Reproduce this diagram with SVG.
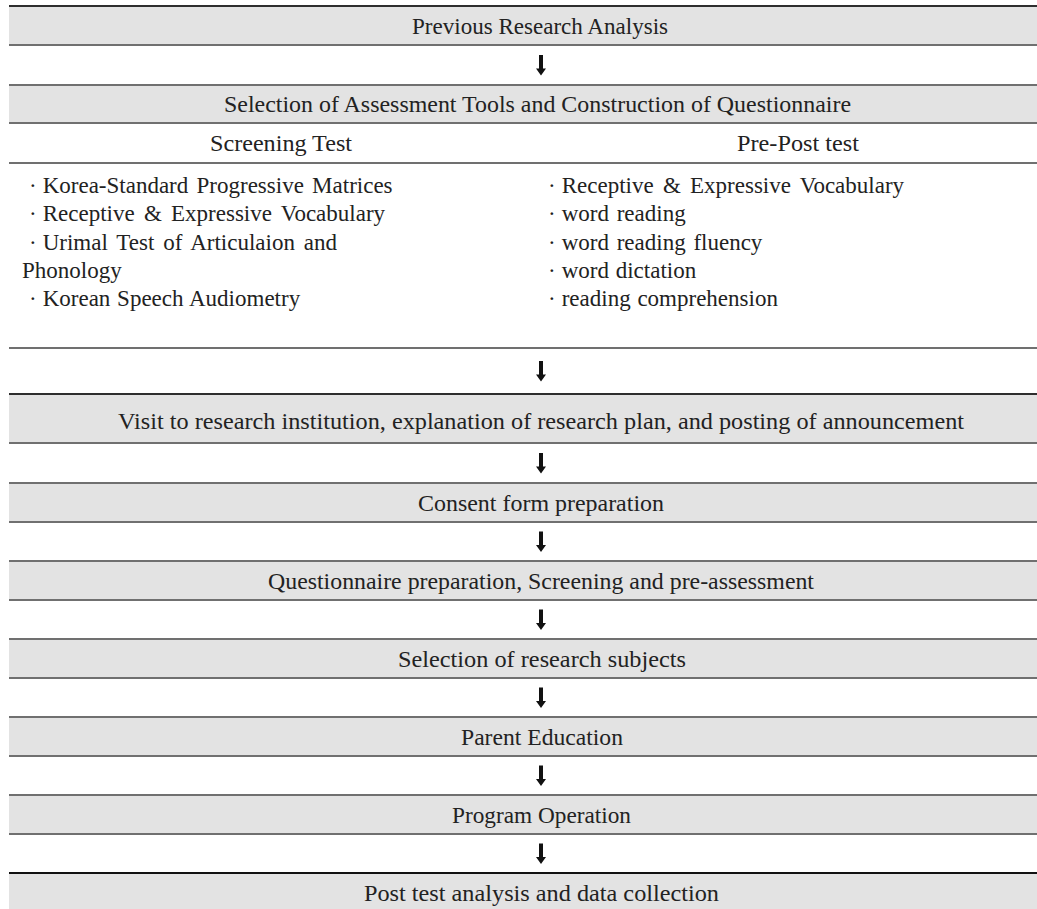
<svg xmlns="http://www.w3.org/2000/svg" width="1037" height="909" viewBox="0 0 1037 909">
<defs>
<style>
.band{fill:#e3e3e3}
.ln{stroke:#707070;stroke-width:2}
.dk{stroke:#2e2e2e;stroke-width:2}
.t{font-family:"Liberation Serif","Times New Roman",serif;font-size:23px;fill:#222}
.arr{fill:#111}
</style>
<path id="arrow" d="M-2,-10 H2 V3.5 H5 L0,10.5 L-5,3.5 H-2 Z"/>
</defs>
<rect width="1037" height="909" fill="#fff"/>
<g id="n1">
<rect class="band" x="9" y="6" width="1028" height="39"/>
<line class="dk" x1="9" y1="6" x2="1037" y2="6"/>
<line class="ln" x1="9" y1="45" x2="1037" y2="45"/>
<text class="t" x="412" y="34" textLength="256" lengthAdjust="spacingAndGlyphs">Previous Research Analysis</text>
</g>
<g id="n2">
<rect class="band" x="9" y="85" width="1028" height="38"/>
<line class="ln" x1="9" y1="85" x2="1037" y2="85"/>
<line class="ln" x1="9" y1="123" x2="1037" y2="123"/>
<text class="t" x="224" y="112" textLength="627" lengthAdjust="spacingAndGlyphs">Selection of Assessment Tools and Construction of Questionnaire</text>
</g>
<g id="n3">
<line class="ln" x1="9" y1="163" x2="1037" y2="163"/>
<text class="t" x="210" y="151" textLength="142" lengthAdjust="spacingAndGlyphs">Screening Test</text>
<text class="t" x="737" y="151" textLength="122" lengthAdjust="spacingAndGlyphs">Pre-Post test</text>
</g>
<g id="n4">
<line class="ln" x1="9" y1="348" x2="1037" y2="348"/>
<text class="t" x="29" y="193" word-spacing="2.5">·<tspan dx="6">Korea-Standard Progressive Matrices</tspan></text>
<text class="t" x="29" y="221" word-spacing="3.5">·<tspan dx="6">Receptive &amp; Expressive Vocabulary</tspan></text>
<text class="t" x="29" y="249.5" word-spacing="3.2">·<tspan dx="6">Urimal Test of Articulaion and</tspan></text>
<text class="t" x="22" y="277.5">Phonology</text>
<text class="t" x="29" y="306" word-spacing="1">·<tspan dx="6">Korean Speech Audiometry</tspan></text>
<text class="t" x="548" y="193" word-spacing="3.5">·<tspan dx="6">Receptive &amp; Expressive Vocabulary</tspan></text>
<text class="t" x="548" y="221" word-spacing="2">·<tspan dx="6">word reading</tspan></text>
<text class="t" x="548" y="249.5" word-spacing="2">·<tspan dx="6">word reading fluency</tspan></text>
<text class="t" x="548" y="277.5" word-spacing="1">·<tspan dx="6">word dictation</tspan></text>
<text class="t" x="548" y="306" word-spacing="1">·<tspan dx="6">reading comprehension</tspan></text>
</g>
<g id="n5">
<rect class="band" x="9" y="394" width="1028" height="49"/>
<line class="dk" x1="9" y1="394" x2="1037" y2="394"/>
<line class="ln" x1="9" y1="443" x2="1037" y2="443"/>
<text class="t" x="118" y="429" textLength="846" lengthAdjust="spacingAndGlyphs">Visit to research institution, explanation of research plan, and posting of announcement</text>
</g>
<g id="n6">
<rect class="band" x="9" y="483" width="1028" height="39"/>
<line class="ln" x1="9" y1="483" x2="1037" y2="483"/>
<line class="ln" x1="9" y1="522" x2="1037" y2="522"/>
<text class="t" x="418" y="511" textLength="246" lengthAdjust="spacingAndGlyphs">Consent form preparation</text>
</g>
<g id="n7">
<rect class="band" x="9" y="561" width="1028" height="39"/>
<line class="ln" x1="9" y1="561" x2="1037" y2="561"/>
<line class="ln" x1="9" y1="600" x2="1037" y2="600"/>
<text class="t" x="268" y="589" textLength="546" lengthAdjust="spacingAndGlyphs">Questionnaire preparation, Screening and pre-assessment</text>
</g>
<g id="n8">
<rect class="band" x="9" y="639" width="1028" height="39"/>
<line class="ln" x1="9" y1="639" x2="1037" y2="639"/>
<line class="ln" x1="9" y1="678" x2="1037" y2="678"/>
<text class="t" x="398" y="667" textLength="288" lengthAdjust="spacingAndGlyphs">Selection of research subjects</text>
</g>
<g id="n9">
<rect class="band" x="9" y="717" width="1028" height="39"/>
<line class="ln" x1="9" y1="717" x2="1037" y2="717"/>
<line class="ln" x1="9" y1="756" x2="1037" y2="756"/>
<text class="t" x="461" y="745" textLength="162" lengthAdjust="spacingAndGlyphs">Parent Education</text>
</g>
<g id="n10">
<rect class="band" x="9" y="795" width="1028" height="39"/>
<line class="ln" x1="9" y1="795" x2="1037" y2="795"/>
<line class="ln" x1="9" y1="834" x2="1037" y2="834"/>
<text class="t" x="452" y="823" textLength="179" lengthAdjust="spacingAndGlyphs">Program Operation</text>
</g>
<g id="n11">
<rect class="band" x="9" y="873" width="1028" height="36"/>
<line class="dk" x1="9" y1="873" x2="1037" y2="873" style="stroke:#111"/>
<text class="t" x="364" y="901" textLength="355" lengthAdjust="spacingAndGlyphs">Post test analysis and data collection</text>
</g>
<g id="connectors">
<use class="arr" href="#arrow" x="541" y="65"/>
<use class="arr" href="#arrow" x="541" y="371"/>
<use class="arr" href="#arrow" x="541" y="463"/>
<use class="arr" href="#arrow" x="541" y="541.5"/>
<use class="arr" href="#arrow" x="541" y="619.5"/>
<use class="arr" href="#arrow" x="541" y="697.5"/>
<use class="arr" href="#arrow" x="541" y="775.5"/>
<use class="arr" href="#arrow" x="541" y="853.5"/>
</g>
</svg>
